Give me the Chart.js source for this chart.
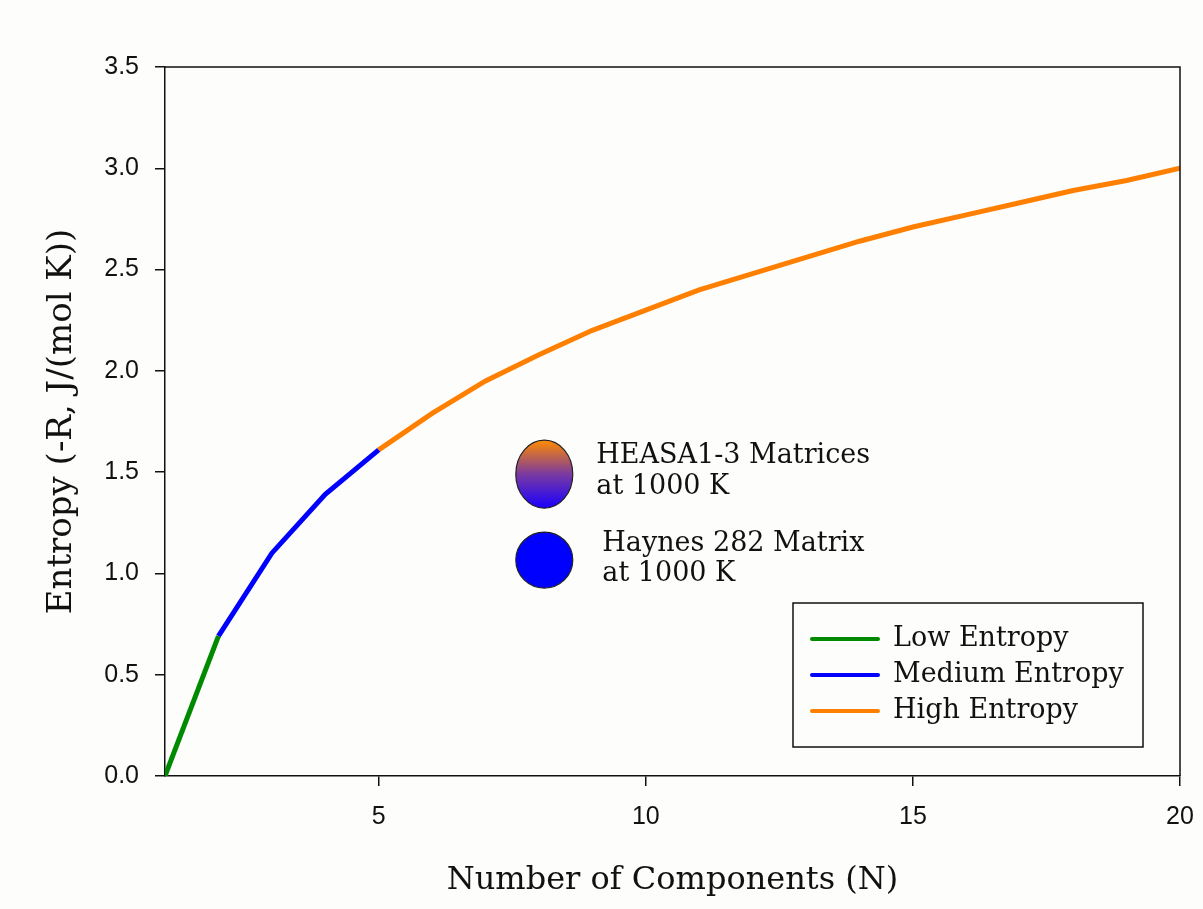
<!DOCTYPE html>
<html>
<head>
<meta charset="utf-8">
<script src="https://cdn.jsdelivr.net/npm/chart.js@4.4.1/dist/chart.umd.min.js"></script>
<style>
  html, body { margin: 0; padding: 0; background: #fdfdfc; }
  #wrap { width: 1203px; height: 909px; }
</style>
</head>
<body>
<div id="wrap"><canvas id="entropyChart" width="1203" height="909"></canvas></div>
<script>
// values (entropy in units of R)
const lowN = [1, 2];
const lowS = [0, 0.69];
const medN = [2, 3, 4, 5];
const medS = [0.69, 1.10, 1.39, 1.61];
const highN = [5, 6, 7, 8, 9, 10, 11, 12, 13, 14, 15, 16, 17, 18, 19, 20];
const highS = [1.61, 1.79, 1.95, 2.08, 2.20, 2.30, 2.40, 2.48, 2.56, 2.64, 2.71, 2.77, 2.83, 2.89, 2.94, 3.00];
const xTicks = [5, 10, 15, 20];
const yTicks = [0, 0.5, 1.0, 1.5, 2.0, 2.5, 3.0, 3.5];
const seriesNames = ["Low Entropy", "Medium Entropy", "High Entropy"];
const seriesColors = ["#008a00", "#0000ff", "#ff7f00"];

const serif = "'DejaVu Serif', serif";
const sans = "'Liberation Sans', Arial, sans-serif";

function pts(xs, ys) {
  return xs.map((x, i) => ({ x: x, y: ys[i] }));
}

// frame, annotation ellipses and boxed legend
const extras = {
  id: "extras",
  afterDraw(chart) {
    const ctx = chart.ctx;
    const a = chart.chartArea;
    const xs = chart.scales.x, ys = chart.scales.y;
    ctx.save();
    ctx.strokeStyle = "#111";
    ctx.lineWidth = 1.5;
    ctx.beginPath();
    ctx.moveTo(a.left, a.top);
    ctx.lineTo(a.right, a.top);
    ctx.lineTo(a.right, a.bottom);
    ctx.stroke();

    // gradient ellipse (HEASA)
    let cx = xs.getPixelForValue(8.1), cy = ys.getPixelForValue(1.49);
    let g = ctx.createLinearGradient(0, cy - 34, 0, cy + 34);
    g.addColorStop(0, "#ff8a00");
    g.addColorStop(0.5, "#7a3aa0");
    g.addColorStop(1, "#1a00ff");
    ctx.fillStyle = g;
    ctx.beginPath();
    ctx.ellipse(cx, cy, 28.5, 34, 0, 0, Math.PI * 2);
    ctx.fill();
    ctx.strokeStyle = "#222";
    ctx.lineWidth = 1.2;
    ctx.stroke();

    ctx.fillStyle = "#111";
    ctx.font = "27px " + serif;
    ctx.textBaseline = "middle";
    ctx.textAlign = "left";
    ctx.fillText("HEASA1-3 Matrices", cx + 52, cy - 18);
    ctx.fillText("at 1000 K", cx + 52, cy + 13);

    // blue circle (Haynes 282)
    cx = xs.getPixelForValue(8.1); cy = ys.getPixelForValue(1.066);
    ctx.fillStyle = "#0000ff";
    ctx.beginPath();
    ctx.ellipse(cx, cy, 28.5, 28, 0, 0, Math.PI * 2);
    ctx.fill();
    ctx.stroke();
    ctx.fillStyle = "#111";
    ctx.fillText("Haynes 282 Matrix", cx + 58, cy - 16);
    ctx.fillText("at 1000 K", cx + 58, cy + 14);

    // legend box
    const bx = 793, by = 603, bw = 350, bh = 144;
    ctx.strokeStyle = "#111";
    ctx.lineWidth = 1.5;
    ctx.fillStyle = "#fdfdfc";
    ctx.fillRect(bx, by, bw, bh);
    ctx.strokeRect(bx, by, bw, bh);
    ctx.lineCap = "round";
    seriesNames.forEach((name, i) => {
      const ly = by + 36 + i * 36;
      ctx.strokeStyle = seriesColors[i];
      ctx.lineWidth = 4;
      ctx.beginPath();
      ctx.moveTo(bx + 19, ly);
      ctx.lineTo(bx + 85, ly);
      ctx.stroke();
      ctx.fillStyle = "#111";
      ctx.fillText(name, bx + 100, ly);
    });
    ctx.restore();
  }
};

const ctx = document.getElementById("entropyChart").getContext("2d");
new Chart(ctx, {
  type: "line",
  data: {
    datasets: [
      { label: seriesNames[0], data: pts(lowN, lowS), borderColor: seriesColors[0] },
      { label: seriesNames[1], data: pts(medN, medS), borderColor: seriesColors[1] },
      { label: seriesNames[2], data: pts(highN, highS), borderColor: seriesColors[2] }
    ]
  },
  options: {
    responsive: false,
    animation: false,
    layout: { padding: { top: 67, right: 23, left: 0, bottom: 0 } },
    elements: {
      line: { borderWidth: 5, tension: 0 },
      point: { radius: 0 }
    },
    plugins: { legend: { display: false }, tooltip: { enabled: false } },
    scales: {
      x: {
        type: "linear",
        min: 1,
        max: 20,
        afterBuildTicks: (s) => { s.ticks = xTicks.map(v => ({ value: v })); },
        afterFit: (s) => { s.height = 133; s.paddingLeft = 0; s.paddingRight = 0; },
        grid: { drawOnChartArea: false, tickLength: 10, color: "#111", lineWidth: 1.5 },
        border: { color: "#111", width: 1.5 },
        ticks: { color: "#111", font: { family: sans, size: 25 }, padding: 16, maxRotation: 0 },
        title: { display: true, text: "Number of Components (N)", color: "#111",
                 font: { family: serif, size: 32 }, padding: { top: 0, bottom: 9 } }
      },
      y: {
        type: "linear",
        min: 0,
        max: 3.5,
        afterBuildTicks: (s) => { s.ticks = yTicks.map(v => ({ value: v })); },
        afterFit: (s) => { s.width = 165; s.paddingTop = 0; s.paddingBottom = 0; },
        grid: { drawOnChartArea: false, tickLength: 10, color: "#111", lineWidth: 1.5 },
        border: { color: "#111", width: 1.5 },
        ticks: { color: "#111", font: { family: sans, size: 25 }, padding: 16,
                 callback: (v) => Number(v).toFixed(1) },
        title: { display: true, text: "Entropy (-R, J/(mol K))", color: "#111",
                 font: { family: serif, size: 34 }, padding: { top: 42, bottom: 0 } }
      }
    }
  },
  plugins: [extras]
});
</script>
</body>
</html>
